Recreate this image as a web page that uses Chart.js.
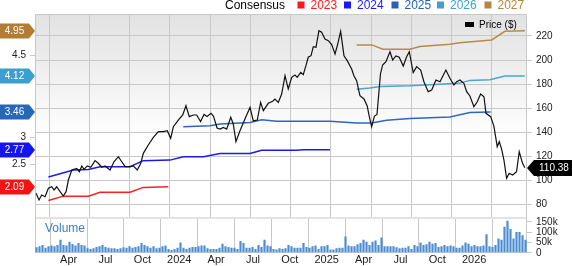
<!DOCTYPE html>
<html>
<head>
<meta charset="utf-8">
<script src="https://cdn.jsdelivr.net/npm/chart.js@4"></script>
<style>
  html, body { margin: 0; padding: 0; background: #fff; }
  #wrap { position: relative; width: 572px; height: 266px; overflow: hidden; }
  #priceChart { position: absolute; left: 0; top: 0; }
  #volChart { position: absolute; left: 0; top: 217px; }
</style>
</head>
<body>
<div id="wrap">
  <canvas id="priceChart" width="572" height="217"></canvas>
  <canvas id="volChart" width="572" height="51"></canvas>
</div>
<script>
// x values are months counted from Jan 2023 (Apr 2023 = 3)
const monthTicks = [3, 6, 9, 12, 15, 18, 21, 24, 27, 30, 33, 36];
const monthLabels = ['Apr', 'Jul', 'Oct', '2024', 'Apr', 'Jul', 'Oct', '2025', 'Apr', 'Jul', 'Oct', '2026'];
const priceTicks = [80, 100, 120, 140, 160, 180, 200, 220];
const epsTicks = [2.5, 3, 4.5];
const volTicks = [0, 50, 100, 150];

const priceX = [2.01,2.23,2.43,2.68,2.93,3.18,3.35,3.55,3.80,4.04,
  4.25,4.42,4.67,5.04,5.24,5.42,5.59,5.83,6.09,6.41,
  6.65,6.91,7.15,7.53,7.82,8.15,8.40,8.65,9.02,9.26,
  9.56,9.82,10.01,10.38,10.76,11.13,11.50,11.80,12.05,12.25,
  12.62,12.95,13.19,13.44,13.74,13.99,14.28,14.54,14.76,15.06,
  15.24,15.51,15.73,15.98,16.23,16.53,16.72,16.92,17.22,17.59,
  17.97,18.21,18.51,18.76,18.96,19.33,19.66,19.83,20.08,20.33,
  20.58,20.82,21.08,21.32,21.49,21.75,21.94,22.14,22.31,22.52,
  22.69,22.89,23.11,23.31,23.56,23.81,24.06,24.31,24.51,24.73,
  24.98,25.22,25.55,25.72,25.92,26.17,26.47,26.71,26.86,27.04,
  27.25,27.44,27.70,27.86,28.11,28.41,28.61,28.85,29.10,29.40,
  29.65,29.85,30.14,30.40,30.70,30.94,31.26,31.52,31.84,32.14,
  32.58,32.88,33.18,33.38,33.63,33.92,34.13,34.37,34.67,34.92,
  35.17,35.42,35.57,35.92,36.16,36.41,36.56,36.74,36.91,37.11,
  37.30,37.56,37.85,38.05,38.30,38.47];
const price = [89.1,83.6,87.7,86.3,93.3,94.6,91.9,94.6,90.5,86.9,
  90.5,100.2,108.5,109.9,107.1,111.9,109.1,111.9,110.8,116.3,
  114.1,110.8,111.9,108.5,115.4,119.6,115.4,111.3,111.3,111.9,
  108.5,114.1,122.4,129.3,135.7,140.4,140.4,141.2,134.9,144.5,
  150.1,154.3,162.0,152.9,154.3,154.3,148.9,154.7,153.0,155.7,
  153.4,143.5,142.6,144.0,142.6,152.4,146.8,132.1,141.2,151.0,
  160.7,149.5,150.1,164.8,157.9,164.0,165.7,167.6,164.8,171.7,
  187.0,175.9,185.6,187.6,185.6,189.8,187.8,195.3,202.3,203.6,
  211.1,210.6,224.4,223.1,217.5,216.1,212.8,205.0,213.3,223.9,
  203.6,199.5,192.5,187.0,182.8,170.3,167.6,161.8,153.4,144.5,
  153.4,154.7,188.4,195.9,198.6,206.9,200.0,203.4,202.3,195.0,
  202.8,206.9,189.5,194.5,191.7,182.0,173.7,175.1,183.4,182.0,
  191.7,184.8,179.2,182.0,183.4,180.7,173.7,170.1,161.2,165.3,
  171.7,169.5,155.7,152.9,145.1,127.9,132.1,125.7,116.8,101.6,
  105.8,104.4,107.1,123.7,114.1,110.38];

// consensus EPS by fiscal year
const eps2023X = [2.93, 4.04, 5.91, 6.78, 9.02, 10.0, 11.87];
const eps2023 = [1.84, 1.92, 1.92, 1.99, 1.99, 2.08, 2.09];
const eps2024X = [2.93, 4.79, 5.91, 6.78, 9.02, 10.0, 12.0, 12.99, 14.5, 15.73, 17.97, 18.84, 21.45, 21.94, 23.93];
const eps2024 = [2.27, 2.40, 2.41, 2.46, 2.46, 2.57, 2.58, 2.64, 2.64, 2.70, 2.70, 2.76, 2.76, 2.77, 2.77];
const eps2025X = [12.99, 14.98, 15.73, 17.97, 18.84, 19.96, 23.93, 25.92, 27.04, 28.16, 29.9, 32.88, 34.37, 35.92];
const eps2025 = [3.19, 3.21, 3.24, 3.27, 3.32, 3.29, 3.29, 3.26, 3.26, 3.31, 3.34, 3.37, 3.45, 3.46];
const eps2026X = [25.92, 26.91, 27.66, 29.9, 32.13, 33.62, 34.37, 35.86, 36.98, 38.47];
const eps2026 = [3.88, 3.90, 3.93, 3.94, 3.97, 3.99, 4.04, 4.05, 4.12, 4.12];
const eps2027X = [25.92, 27.06, 27.88, 29.9, 30.64, 32.88, 33.62, 36.0, 36.98, 38.47];
const eps2027 = [4.69, 4.69, 4.61, 4.61, 4.66, 4.70, 4.73, 4.78, 4.94, 4.95];

// weekly volume, thousands of shares
const volumeK = [27,32,38,25,32,35,32,38,63,38,35,54,43,35,47,38,35,22,19,22,
  28,32,38,28,25,22,22,19,22,27,25,32,25,28,32,47,38,32,25,32,
  22,25,32,35,19,13,19,25,50,25,19,25,28,28,32,
  35,35,22,19,19,19,25,44,32,28,25,25,19,57,47,25,25,28,19,38,
  28,63,35,32,19,16,22,19,22,38,32,25,25,25,47,28,25,32,35,19,
  32,32,38,16,16,22,25,25,79,35,32,32,41,47,63,54,38,54,60,38,74,
  32,32,32,32,27,22,24,25,32,19,38,32,50,38,41,54,44,47,28,32,
  38,32,35,32,25,25,35,50,44,32,38,32,32,35,90,32,28,38,69,63,
  126,156,116,69,101,101,85,63];

const years = ['2023', '2024', '2025', '2026', '2027'];
const lineColors = ['#ff1f1f', '#1a1aee', '#2c68bd', '#46a6d6', '#b88a48'];
const boxColors = ['#f01414', '#1414f0', '#2767b8', '#3aa0d2', '#b27d32'];
const legendColors = ['#ff1a1a', '#1a1aff', '#2463b8', '#3ea0d2', '#b8863d'];
const epsXs = [eps2023X, eps2024X, eps2025X, eps2026X, eps2027X];
const epsYs = [eps2023, eps2024, eps2025, eps2026, eps2027];

const gridColor = '#c8c8c8';
const FONT = 'Arial, "Liberation Sans", sans-serif';
Chart.defaults.font.family = FONT;
Chart.defaults.color = '#222';

const xMin = 1.93, xMax = 38.63;
const toPts = (xs, ys) => xs.map((x, i) => ({ x: x, y: ys[i] }));

const setTicks = vals => scale => { scale.ticks = vals.map(v => ({ value: v })); };

const pricePanel = {
  id: 'pricePanel',
  beforeDraw(chart) {
    const { ctx, chartArea: a } = chart;
    const g = ctx.createLinearGradient(0, a.top, 0, a.bottom);
    g.addColorStop(0, '#e2e2e2');
    g.addColorStop(0.62, '#ffffff');
    g.addColorStop(1, '#ffffff');
    ctx.save();
    ctx.fillStyle = g;
    ctx.fillRect(a.left, a.top, a.right - a.left, a.bottom - a.top);
    ctx.restore();
  },
  beforeDatasetsDraw(chart) {
    const { ctx, chartArea: a } = chart;
    ctx.save();
    ctx.strokeStyle = gridColor;
    ctx.lineWidth = 1;
    ctx.strokeRect(a.left + 0.5, a.top + 0.5, a.right - a.left - 1, a.bottom - a.top + 2);
    ctx.restore();
  },
  afterDraw(chart) {
    const { ctx } = chart;
    ctx.save();
    // consensus legend
    ctx.textBaseline = 'middle';
    ctx.font = '12px ' + FONT;
    ctx.fillStyle = '#000';
    ctx.fillText('Consensus', 225, 5.5);
    const sqX = [297.5, 344, 391.5, 437, 484.5];
    years.forEach((y, i) => {
      ctx.fillStyle = legendColors[i];
      ctx.fillRect(sqX[i], 1.5, 7, 7);
      ctx.fillText(y, sqX[i] + 13, 5.5);
    });
    // price legend
    ctx.fillStyle = '#000';
    ctx.fillRect(465, 22, 9, 5);
    ctx.font = '10px ' + FONT;
    ctx.fillText('Price ($)', 479, 25);

    // eps value tags
    const ye = chart.scales.ye;
    ctx.font = '10px ' + FONT;
    ctx.textAlign = 'center';
    epsYs.forEach((ys, i) => {
      const v = ys[ys.length - 1];
      const y = Math.round(ye.getPixelForValue(v));
      ctx.fillStyle = boxColors[i];
      ctx.beginPath();
      ctx.moveTo(0, y - 7.5);
      ctx.lineTo(29, y - 7.5);
      ctx.lineTo(35, y);
      ctx.lineTo(29, y + 7.5);
      ctx.lineTo(0, y + 7.5);
      ctx.closePath();
      ctx.fill();
      ctx.fillStyle = '#fff';
      ctx.fillText(v.toFixed(2), 14.5, y + 0.5);
    });

    // last price tag
    const last = price[price.length - 1];
    const py = Math.round(chart.scales.yp.getPixelForValue(last));
    ctx.fillStyle = '#000';
    ctx.beginPath();
    ctx.moveTo(527, py);
    ctx.lineTo(534, py - 8);
    ctx.lineTo(572, py - 8);
    ctx.lineTo(572, py + 8);
    ctx.lineTo(534, py + 8);
    ctx.closePath();
    ctx.fill();
    ctx.fillStyle = '#fff';
    ctx.textAlign = 'left';
    ctx.fillText(last.toFixed(2), 539, py + 0.5);
    ctx.restore();
  }
};

const epsDatasets = years.map((y, i) => ({
  label: y,
  data: toPts(epsXs[i], epsYs[i]),
  yAxisID: 'ye',
  borderColor: lineColors[i],
  borderWidth: 1.5,
  pointRadius: 0,
  tension: 0
}));

new Chart(document.getElementById('priceChart'), {
  type: 'line',
  data: {
    datasets: [{
      label: 'Price ($)',
      data: toPts(priceX, price),
      yAxisID: 'yp',
      borderColor: '#111',
      borderWidth: 1.2,
      pointRadius: 0,
      tension: 0
    }].concat(epsDatasets)
  },
  options: {
    responsive: false,
    animation: false,
    events: [],
    layout: { padding: { top: 14, left: 0, right: 0, bottom: 0 } },
    plugins: { legend: { display: false }, tooltip: { enabled: false } },
    scales: {
      x: {
        type: 'linear', min: xMin, max: xMax,
        afterBuildTicks: setTicks(monthTicks),
        ticks: { display: false },
        grid: { color: gridColor, drawTicks: false },
        border: { display: false }
      },
      yp: {
        type: 'linear', position: 'right', min: 69.43, max: 238.3,
        afterBuildTicks: setTicks(priceTicks),
        afterFit(s) { s.width = 45; s.paddingTop = 0; s.paddingBottom = 0; },
        ticks: { padding: 4, font: { size: 10 }, color: '#222', autoSkip: false },
        grid: { color: gridColor, tickLength: 5 },
        border: { display: false }
      },
      ye: {
        type: 'linear', position: 'left', min: 1.538, max: 5.256,
        afterBuildTicks: setTicks(epsTicks),
        afterFit(s) { s.width = 35; s.paddingTop = 0; s.paddingBottom = 0; },
        ticks: { padding: 4, font: { size: 10 }, color: '#222', autoSkip: false, callback: v => String(v) },
        grid: { drawOnChartArea: false, color: gridColor, tickLength: 5 },
        border: { display: false }
      }
    }
  },
  plugins: [pricePanel]
});

const volPanel = {
  id: 'volPanel',
  beforeDatasetsDraw(chart) {
    const { ctx, chartArea: a } = chart;
    ctx.save();
    ctx.fillStyle = '#e2e2e2';
    ctx.fillRect(a.left, 0, a.right - a.left, 2);
    ctx.strokeStyle = gridColor;
    ctx.beginPath();
    ctx.moveTo(a.left + 0.5, 0); ctx.lineTo(a.left + 0.5, a.bottom);
    ctx.moveTo(a.right - 0.5, 0); ctx.lineTo(a.right - 0.5, a.bottom);
    ctx.stroke();
    ctx.fillStyle = '#3d80c4';
    ctx.font = '12px ' + FONT;
    ctx.textBaseline = 'middle';
    ctx.fillText('Volume', 45, 12);
    ctx.restore();
  }
};

new Chart(document.getElementById('volChart'), {
  type: 'bar',
  data: {
    labels: volumeK.map((_, i) => i),
    datasets: [{
      label: 'Volume',
      data: volumeK,
      xAxisID: 'xb',
      yAxisID: 'yv',
      backgroundColor: '#4b8dd2',
      barPercentage: 0.72,
      categoryPercentage: 1
    }]
  },
  options: {
    responsive: false,
    animation: false,
    events: [],
    layout: { padding: { top: 2, left: 35, right: 0, bottom: 0 } },
    plugins: { legend: { display: false }, tooltip: { enabled: false } },
    scales: {
      x: {
        type: 'linear', position: 'bottom', min: xMin, max: xMax,
        afterBuildTicks: setTicks(monthTicks),
        afterFit(s) { s.paddingLeft = 0; s.paddingRight = 0; },
        ticks: {
          padding: 1, font: { size: 11 }, color: '#222', maxRotation: 0, autoSkip: false,
          callback: v => monthLabels[monthTicks.indexOf(v)]
        },
        grid: { color: gridColor, drawTicks: false },
        border: { display: true, color: gridColor }
      },
      xb: { type: 'category', display: false, offset: true },
      yv: {
        type: 'linear', position: 'right', min: 0, max: 164,
        afterBuildTicks: setTicks(volTicks),
        afterFit(s) { s.width = 45; s.paddingTop = 0; s.paddingBottom = 0; },
        ticks: { padding: 4, font: { size: 10 }, color: '#222', autoSkip: false, callback: v => v ? v + 'k' : '0' },
        grid: { drawOnChartArea: false, color: gridColor, tickLength: 5 },
        border: { display: false }
      }
    }
  },
  plugins: [volPanel]
});
</script>
</body>
</html>
